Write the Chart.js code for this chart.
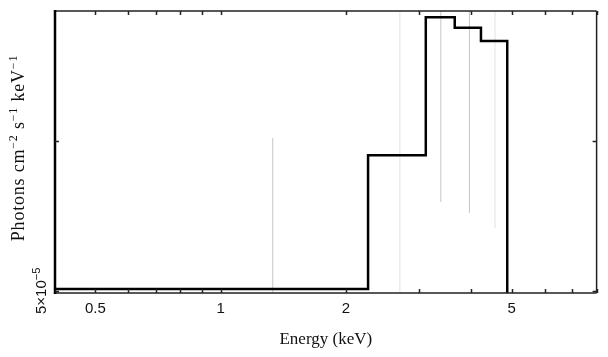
<!DOCTYPE html>
<html lang="en">
<head>
  <meta charset="UTF-8">
  <title>Spectrum</title>
  <script src="https://cdn.jsdelivr.net/npm/chart.js"></script>
  <style>
    html, body { margin: 0; padding: 0; background: #fff; }
    canvas { display: block; }
  </style>
</head>
<body>
  <canvas id="chart" width="608" height="357"></canvas>
  <script>
    // bin edges (keV) and flux in each bin (photons cm^-2 s^-1 keV^-1)
    const binEdges = [0.4, 2.26, 3.11, 3.65, 4.22, 4.88];
    const binFlux = [5.04e-5, 9.36e-5, 1.772e-4, 1.689e-4, 1.588e-4];

    // light grey vertical bars: energy, lower and upper end
    const barEnergy = [1.334, 2.695, 3.38, 3.96, 4.56];
    const barLow = [1e-6, 1e-6, 7.54e-5, 7.17e-5, 6.69e-5];
    const barHigh = [1.014e-4, 1e-3, 1e-3, 1e-3, 1e-3];
    const barShade = ['#c6c6c6', '#e2e2e2', '#c6c6c6', '#c6c6c6', '#e2e2e2'];

    // axes
    const xRange = [0.4, 8];
    const yRange = [4.95e-5, 1.824e-4];
    const xTicks = [0.5, 0.6, 0.7, 0.8, 0.9, 1, 2, 3, 4, 5, 6, 7, 8];
    const xTickLabels = ['0.5', '', '', '', '', '1', '2', '', '', '5', '', '', ''];
    const yTicks = [5e-5, 1e-4];
    const yTickLabels = [['5\u00d710', '\u22125'], ['', '']];

    const stepPoints = binEdges.map((e, i) => ({ x: e, y: binFlux[Math.min(i, binFlux.length - 1)] }));
    stepPoints.push({ x: binEdges[binEdges.length - 1], y: 1e-6 });

    const datasets = [{
      data: stepPoints,
      stepped: 'before',
      borderColor: '#000',
      borderWidth: 2.5,
      pointRadius: 0,
      fill: false
    }];
    barEnergy.forEach((e, i) => {
      datasets.push({
        data: [{ x: e, y: barLow[i] }, { x: e, y: barHigh[i] }],
        borderColor: barShade[i],
        borderWidth: 1,
        pointRadius: 0,
        fill: false
      });
    });

    const serif = '"Liberation Serif", "DejaVu Serif", serif';
    const sans = '"Liberation Sans", Arial, sans-serif';

    // draw text made of [text, isSuperscript] pieces, centered at 0
    function drawPieces(ctx, pieces, family, size, supSize, rise) {
      let total = 0;
      const widths = pieces.map(([t, sup]) => {
        ctx.font = (sup ? supSize : size) + 'px ' + family;
        const w = ctx.measureText(t).width;
        total += w;
        return w;
      });
      let x = -total / 2;
      pieces.forEach(([t, sup], i) => {
        ctx.font = (sup ? supSize : size) + 'px ' + family;
        ctx.fillText(t, x, sup ? -rise : 0);
        x += widths[i];
      });
    }

    const frame = {
      id: 'frame',
      afterDraw(chart) {
        const { ctx, chartArea: a, scales } = chart;
        const xs = scales.x, ys = scales.y;
        ctx.save();
        ctx.strokeStyle = '#222';
        ctx.lineCap = 'butt';

        // box
        ctx.lineWidth = 1.5;
        ctx.beginPath();
        ctx.moveTo(a.left, a.top); ctx.lineTo(a.right, a.top);
        ctx.moveTo(a.right, a.top); ctx.lineTo(a.right, a.bottom);
        ctx.moveTo(a.left, a.bottom); ctx.lineTo(a.right, a.bottom);
        ctx.stroke();
        ctx.lineWidth = 2.5;
        ctx.strokeStyle = '#000';
        ctx.beginPath();
        ctx.moveTo(a.left, a.top - 1); ctx.lineTo(a.left, a.bottom + 1);
        ctx.stroke();

        // inward ticks
        ctx.lineWidth = 1.5;
        ctx.strokeStyle = '#222';
        ctx.beginPath();
        xTicks.forEach(v => {
          const px = Math.round(xs.getPixelForValue(v)) + 0.5;
          ctx.moveTo(px, a.bottom); ctx.lineTo(px, a.bottom - 4);
          ctx.moveTo(px, a.top); ctx.lineTo(px, a.top + 4);
        });
        yTicks.forEach(v => {
          const py = Math.round(ys.getPixelForValue(v)) + 0.5;
          ctx.moveTo(a.left, py); ctx.lineTo(a.left + 4, py);
          ctx.moveTo(a.right, py); ctx.lineTo(a.right - 4, py);
        });
        ctx.stroke();

        // x tick labels
        ctx.fillStyle = '#111';
        ctx.textAlign = 'center';
        ctx.textBaseline = 'alphabetic';
        ctx.font = '15px ' + sans;
        xTicks.forEach((v, i) => {
          if (xTickLabels[i]) ctx.fillText(xTickLabels[i], xs.getPixelForValue(v), 313);
        });

        // y tick labels, rotated
        ctx.textAlign = 'left';
        yTicks.forEach((v, i) => {
          const [base, sup] = yTickLabels[i];
          if (!base) return;
          ctx.save();
          ctx.translate(46, ys.getPixelForValue(v));
          ctx.rotate(-Math.PI / 2);
          drawPieces(ctx, [[base, false], [sup, true]], sans, 15, 11, 6);
          ctx.restore();
        });

        // axis titles
        ctx.font = '17px ' + serif;
        ctx.textAlign = 'center';
        ctx.fillText('Energy (keV)', (a.left + a.right) / 2, 344);

        ctx.save();
        ctx.translate(24, 148);
        ctx.rotate(-Math.PI / 2);
        ctx.textAlign = 'left';
        ctx.letterSpacing = '0.8px';
        drawPieces(ctx, [['Photons cm', false], ['\u22122', true], [' s', false], ['\u22121', true],
          [' keV', false], ['\u22121', true]], serif, 18, 12, 7);
        ctx.restore();

        ctx.restore();
      }
    };

    new Chart(document.getElementById('chart'), {
      type: 'line',
      data: { datasets: datasets },
      options: {
        responsive: false,
        animation: false,
        layout: { padding: { left: 55, top: 11, right: 11.4, bottom: 64 } },
        plugins: { legend: { display: false }, tooltip: { enabled: false } },
        scales: {
          x: { type: 'logarithmic', min: xRange[0], max: xRange[1], display: false },
          y: { type: 'logarithmic', min: yRange[0], max: yRange[1], display: false }
        }
      },
      plugins: [frame]
    });
  </script>
</body>
</html>
